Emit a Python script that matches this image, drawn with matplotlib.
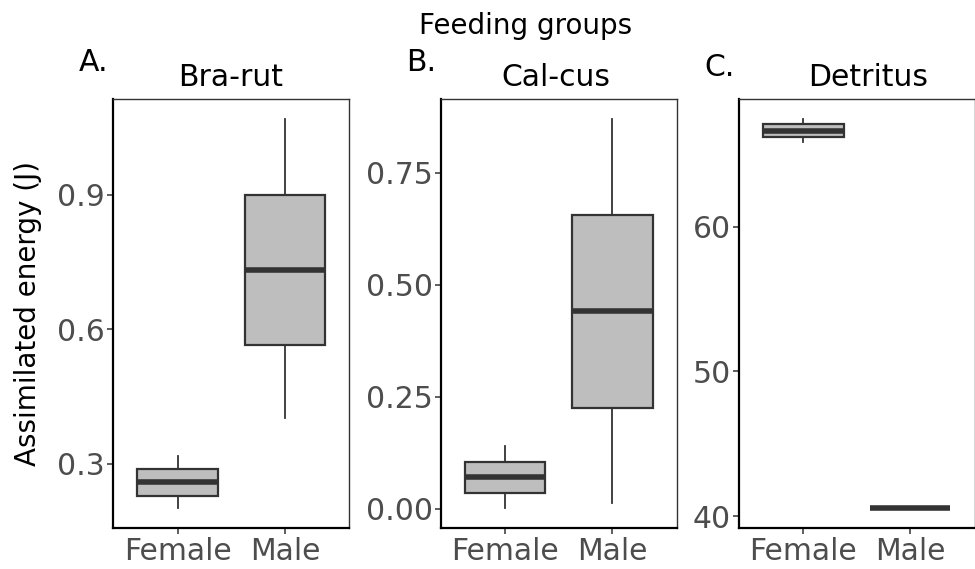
import matplotlib
matplotlib.use("Agg")
import matplotlib.pyplot as plt

# Values (five-number summaries per sex)
groups = ["Bra-rut", "Cal-cus", "Detritus"]
tags = ["A.", "B.", "C."]
sexes = ["Female", "Male"]

bra_female = dict(whislo=0.201, q1=0.228, med=0.260, q3=0.289, whishi=0.318)
bra_male = dict(whislo=0.401, q1=0.564, med=0.731, q3=0.900, whishi=1.069)
cal_female = dict(whislo=0.001, q1=0.036, med=0.070, q3=0.105, whishi=0.140)
cal_male = dict(whislo=0.012, q1=0.2245, med=0.441, q3=0.656, whishi=0.870)
det_female = dict(whislo=65.8, q1=66.15, med=66.6, q3=67.05, whishi=67.43)
det_male = dict(whislo=40.57, q1=40.57, med=40.57, q3=40.57, whishi=40.57)

stats = [[bra_female, bra_male], [cal_female, cal_male], [det_female, det_male]]
yticks = [[0.3, 0.6, 0.9], [0.0, 0.25, 0.5, 0.75], [40, 50, 60]]
ytick_labels = [["0.3", "0.6", "0.9"], ["0.00", "0.25", "0.50", "0.75"], ["40", "50", "60"]]

W, H = 975, 569
fig = plt.figure(figsize=(W / 100, H / 100), dpi=100)

# panel boxes in pixels: left, right
panels = [(113.3, 349.3), (441.0, 676.7), (739.3, 974.5)]
top_px, bot_px = 99.3, 527.7

edge = "#333333"
fill = "#BEBEBE"
tick_col = "#4D4D4D"
fs = 21.5

for i, (l, r) in enumerate(panels):
    ax = fig.add_axes([l / W, 1 - bot_px / H, (r - l) / W, (bot_px - top_px) / H])
    bstats = []
    for s, lab in zip(stats[i], sexes):
        d = dict(s)
        d["fliers"] = []
        d["label"] = lab
        bstats.append(d)
    ax.bxp(bstats, positions=[1, 2], widths=0.75, patch_artist=True,
           showcaps=False, showfliers=False,
           boxprops=dict(facecolor=fill, edgecolor=edge, linewidth=1.6),
           whiskerprops=dict(color=edge, linewidth=1.3),
           medianprops=dict(color=edge, linewidth=4.0, solid_capstyle="butt"))
    lo = min(s["whislo"] for s in stats[i])
    hi = max(s["whishi"] for s in stats[i])
    pad = (hi - lo) * 0.05
    ax.set_ylim(lo - pad, hi + pad)
    ax.set_xlim(0.4, 2.6)
    ax.set_yticks(yticks[i])
    ax.set_yticklabels(ytick_labels[i])
    ax.set_xticks([1, 2])
    ax.set_xticklabels(sexes)
    ax.tick_params(axis="both", length=4, width=1.1, color=edge,
                   labelsize=fs, labelcolor=tick_col, pad=2)
    ax.tick_params(axis="x", pad=3)
    for side in ["left", "bottom"]:
        ax.spines[side].set_linewidth(1.6)
        ax.spines[side].set_color("black")
    for side in ["top", "right"]:
        ax.spines[side].set_linewidth(1.0)
        ax.spines[side].set_color(edge)

# titles and tags
fig.text(525.8 / W, 1 - 34.3 / H, "Feeding groups", ha="center", va="baseline", fontsize=20)
tag_pos = [(78.3, 71), (406, 70.7), (704, 76)]
title_x = [230.5, 556, 868]
for t, (x, y) in zip(tags, tag_pos):
    fig.text(x / W, 1 - y / H, t, ha="left", va="baseline", fontsize=21.5)
for g, x in zip(groups, title_x):
    fig.text(x / W, 1 - 86 / H, g, ha="center", va="baseline", fontsize=21.5)

fig.text(28 / W, 1 - 313 / H, "Assimilated energy (J)", rotation=90,
         ha="center", va="center", fontsize=20)

fig.savefig("out.png", dpi=100)
